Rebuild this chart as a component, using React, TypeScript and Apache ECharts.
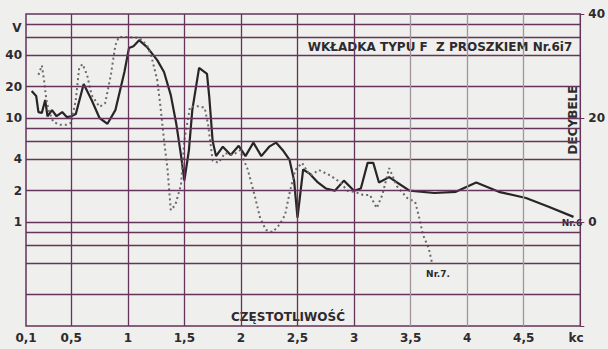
import React, { useEffect, useRef } from 'react';
import * as echarts from 'echarts';

// x axis (kc) tick labels and grid positions
const xTickValues = [0.1, 0.5, 1, 1.5, 2, 2.5, 3, 3.5, 4, 4.5];
const xGridDark = [0.5, 1, 1.5, 2, 2.5, 3];
const xGridLight = [3.5, 4, 4.5];
// y axis (V, log) grid lines and labelled values
const yGridValues = [0.2, 0.4, 0.6, 0.8, 1, 2, 4, 6, 8, 10, 20, 40, 60, 80];
const yLabelValues = [1, 2, 4, 10, 20, 40];

// Nr.6 (solid)
const nr6Freq = [0.15, 0.19, 0.21, 0.24, 0.27, 0.29, 0.33, 0.37, 0.42, 0.46, 0.5, 0.54, 0.61, 0.68, 0.75, 0.82, 0.89, 0.97, 1.01, 1.05, 1.1, 1.17, 1.26, 1.32, 1.38, 1.43, 1.47, 1.5, 1.54, 1.57, 1.63, 1.7, 1.72, 1.75, 1.78, 1.84, 1.91, 1.98, 2.04, 2.11, 2.18, 2.25, 2.31, 2.37, 2.43, 2.47, 2.5, 2.55, 2.61, 2.68, 2.75, 2.83, 2.91, 3.0, 3.06, 3.12, 3.17, 3.22, 3.31, 3.38, 3.49, 3.71, 3.9, 4.08, 4.28, 4.52, 4.72, 4.94];
const nr6Volts = [18.2, 16.3, 11.4, 11.2, 14.9, 10.4, 11.9, 10.4, 11.4, 10.2, 10.4, 10.9, 21.2, 14.9, 10.0, 8.8, 11.9, 27.7, 47, 49, 56, 48, 36, 27.7, 16.6, 8.6, 4.4, 2.5, 4.9, 11.9, 30.3, 26.5, 16, 6, 4.3, 5.3, 4.4, 5.4, 4.3, 5.8, 4.3, 5.3, 5.8, 4.9, 3.95, 2.5, 1.1, 3.2, 2.9, 2.4, 2.1, 2.0, 2.5, 2.0, 2.1, 3.7, 3.7, 2.4, 2.7, 2.4, 2.0, 1.9, 1.95, 2.4, 1.95, 1.7, 1.4, 1.12];

// Nr.7 (dotted)
const nr7Freq = [0.21, 0.24, 0.26, 0.28, 0.3, 0.34, 0.4, 0.46, 0.5, 0.54, 0.57, 0.6, 0.64, 0.68, 0.75, 0.8, 0.85, 0.89, 0.92, 0.99, 1.1, 1.17, 1.21, 1.26, 1.29, 1.32, 1.35, 1.38, 1.42, 1.47, 1.5, 1.55, 1.63, 1.68, 1.71, 1.75, 1.8, 1.86, 1.93, 1.99, 2.06, 2.12, 2.17, 2.22, 2.28, 2.34, 2.39, 2.43, 2.48, 2.54, 2.61, 2.69, 2.79, 2.88, 2.94, 3.01, 3.08, 3.14, 3.2, 3.25, 3.31, 3.38, 3.47, 3.54, 3.57, 3.61, 3.66, 3.69];
const nr7Volts = [26, 32, 23, 15, 11.9, 9.2, 8.6, 8.6, 9.0, 14.9, 30.3, 33, 25.9, 16.6, 12.8, 13.9, 25.9, 50, 60, 60, 59, 50, 38.6, 23.2, 12.5, 6.1, 3.3, 1.3, 1.46, 2.27, 6.1, 12.8, 13.0, 12.5, 8.6, 3.9, 3.7, 4.6, 4.4, 4.9, 3.2, 1.82, 1.09, 0.84, 0.8, 0.94, 1.17, 1.9, 3.16, 3.7, 2.8, 3.16, 2.8, 2.4, 2.0, 1.94, 1.82, 1.82, 1.36, 1.82, 3.3, 2.2, 1.7, 1.56, 1.17, 0.75, 0.56, 0.4];

const gridColor = '#65345a';
const lightGrid = '#a3949e';
const textColor = '#2e2a2d';
const FONT = 'DejaVu Sans';

export default function App() {
  const ref = useRef<HTMLDivElement>(null);
  useEffect(() => {
    if (!ref.current) return;
    const chart = echarts.init(ref.current, undefined, { renderer: 'svg' });
    const labelStyle = { color: textColor, fontSize: 12, fontWeight: 'bold' as const, fontFamily: FONT };
    const option: any = {
      animation: false,
      backgroundColor: '#efefed',
      grid: { left: 26, right: 23, top: 14, bottom: 23, show: true, borderColor: gridColor, borderWidth: 1.5, backgroundColor: 'transparent' },
      xAxis: {
        type: 'value', min: 0.1, max: 5,
        axisLine: { show: false }, axisTick: { show: false }, splitLine: { show: false },
        axisLabel: {
          customValues: xTickValues,
          formatter: (v: number) => String(v).replace('.', ','),
          margin: 6,
          ...labelStyle,
        },
      },
      yAxis: [
        {
          type: 'log', logBase: 10, min: 0.1, max: 100,
          axisLine: { show: false }, axisTick: { show: false }, splitLine: { show: false }, axisLabel: { show: false },
        },
        {
          type: 'value', min: -20, max: 40, interval: 20, position: 'right',
          axisLine: { show: false },
          axisTick: { show: true, length: 4, lineStyle: { color: gridColor } },
          splitLine: { show: false },
          axisLabel: { formatter: (v: number) => (v === -20 ? '' : String(v)), margin: 8, ...labelStyle },
        },
      ],
      series: [
        {
          name: 'grid', type: 'line', data: [], z: 1, silent: true,
          markLine: {
            silent: true, symbol: ['none', 'none'], animation: false,
            lineStyle: { color: gridColor, width: 1.3, type: 'solid' },
            label: { show: false },
            emphasis: { disabled: true },
            data: [
              ...yGridValues.map((v) => ({
                yAxis: v,
                label: yLabelValues.includes(v)
                  ? { show: true, position: 'start', formatter: String(v), distance: 4, ...labelStyle }
                  : { show: false },
              })),
              ...xGridDark.map((v) => ({ xAxis: v, label: { show: false } })),
              ...xGridLight.map((v) => ({ xAxis: v, label: { show: false }, lineStyle: { color: lightGrid, width: 1.3, type: 'solid' } })),
            ],
          },
        },
        {
          name: 'Nr.6', type: 'line', z: 3, showSymbol: false, symbol: 'none',
          data: nr6Freq.map((f, i) => [f, nr6Volts[i]]),
          lineStyle: { color: '#2a2427', width: 2.2 },
        },
        {
          name: 'Nr.7', type: 'line', z: 3, showSymbol: false, symbol: 'none',
          data: nr7Freq.map((f, i) => [f, nr7Volts[i]]),
          lineStyle: { color: '#6e676b', width: 2, type: [2, 3] },
        },
      ],
      graphic: [
        { type: 'text', x: 17, y: 28, style: { text: 'V', align: 'center', verticalAlign: 'middle', fill: textColor, font: `bold 12px "${FONT}"` } },
        { type: 'text', x: 576, y: 338, style: { text: 'kc', align: 'center', verticalAlign: 'middle', fill: textColor, font: `bold 12px "${FONT}"` } },
        { type: 'text', x: 440, y: 47, style: { text: 'WKŁADKA TYPU F  Z PROSZKIEM Nr.6i7', align: 'center', verticalAlign: 'middle', fill: textColor, font: `bold 12px "${FONT}"` } },
        { type: 'text', x: 288, y: 317, style: { text: 'CZĘSTOTLIWOŚĆ', align: 'center', verticalAlign: 'middle', fill: textColor, font: `bold 12px "${FONT}"` } },
        { type: 'text', x: 573, y: 120, rotation: Math.PI / 2, style: { text: 'DECYBELE', align: 'center', verticalAlign: 'middle', fill: textColor, font: `bold 12px "${FONT}"` } },
        { type: 'text', x: 572, y: 223, style: { text: 'Nr.6', align: 'center', verticalAlign: 'middle', fill: textColor, font: `bold 9px "${FONT}"` } },
        { type: 'text', x: 438, y: 274, style: { text: 'Nr.7.', align: 'center', verticalAlign: 'middle', fill: textColor, font: `bold 9px "${FONT}"` } },
      ],
    };
    chart.setOption(option);
    return () => chart.dispose();
  }, []);
  return <div ref={ref} style={{ position: 'fixed', left: 0, top: 0, width: 608, height: 349 }} />;
}
